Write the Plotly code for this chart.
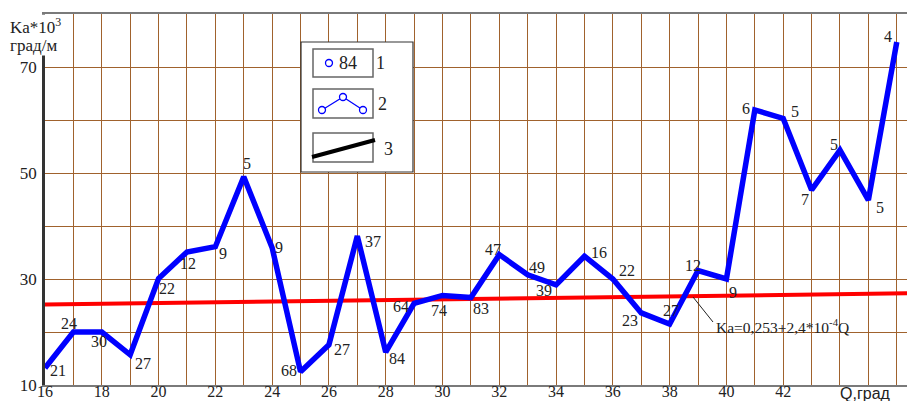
import plotly.graph_objects as go

# Angle of the section, degrees
q = list(range(16, 47))
# Ka * 10^3, deg/m
ka = [13.2, 20.0, 20.0, 15.7, 30.1, 35.1, 36.1, 49.3, 35.9, 12.5,
      17.6, 38.1, 16.2, 25.4, 26.9, 26.5, 34.6, 30.8, 28.9, 34.3,
      30.0, 23.6, 21.5, 31.6, 30.0, 61.9, 60.3, 46.8, 54.3, 44.9, 74.7]
# number of measurements at each point
counts = ["21", "24", "30", "27", "22", "12", "9", "5", "9", "68",
          "27", "37", "84", "64", "74", "83", "47", "49", "39", "16",
          "22", "23", "27", "12", "9", "6", "5", "7", "5", "5", "4"]
# regression line end points
trend_q = [16, 46.36]
trend_ka = [25.2, 27.3]

x_ticks = list(range(16, 43, 2))
y_ticks = [10, 30, 50, 70]

# label offsets (px right, px down) relative to each point
label_offsets = [(13, 2), (-4, -9), (-3, 9), (13, 9), (8, 10), (1, 12), (8, 7),
                 (3, -13), (7, 0), (-12, -1), (13, 5), (16, 5), (11, 6), (-13, 3),
                 (-4, 15), (10, 11), (-6, -5), (9, -7), (-12, 6), (15, -4),
                 (14, -9), (-11, 8), (1, -14), (-5, -5), (7, 13), (-9, -1),
                 (12, -7), (-7, 10), (-6, -6), (12, 7), (-9, -6)]

SERIF = "Liberation Serif, DejaVu Serif, serif"
SANS = "Liberation Sans, Arial, sans-serif"
GRID = "#a0622d"
ML, MT, PW, PH = 45, 14, 862, 371


def paper(px, py):
    return (px - ML) / PW, (MT + PH - py) / PH


def label(px, py, text, size=16, family=SERIF, xanchor="center", **kw):
    a, b = paper(px, py)
    return dict(x=a, y=b, xref="paper", yref="paper", text=text, showarrow=False,
                xanchor=xanchor, yanchor="middle",
                font=dict(family=family, size=size, color="#222"), **kw)


fig = go.Figure()
fig.add_trace(go.Scatter(x=trend_q, y=trend_ka, mode="lines",
                         line=dict(color="#ff0000", width=4), hoverinfo="skip"))
fig.add_trace(go.Scatter(x=q, y=ka, mode="lines",
                         line=dict(color="#0000ff", width=5.5), hoverinfo="skip"))

annotations = []
for xv, yv, t, (dx, dy) in zip(q, ka, counts, label_offsets):
    annotations.append(dict(x=xv, y=yv, xref="x", yref="y", text=t, showarrow=False,
                            xanchor="center", yanchor="middle",
                            xshift=dx, yshift=-dy,
                            font=dict(family=SERIF, size=16, color="#222")))

# axis captions
annotations.append(label(35, 26, "Ka*10<sup>3</sup>", size=17, bgcolor="white", borderpad=0))
annotations.append(label(33, 45, "град/м", size=17, bgcolor="white", borderpad=0))
annotations.append(label(865, 393, "Q,град", size=16, family=SANS))

# regression formula with leader
annotations.append(label(714, 326, "Ka=0,253+2,4*10<sup>-4</sup>Q", size=15.5, xanchor="left"))

shapes = []
x0, y0 = paper(693, 297)
x1, y1 = paper(713, 322)
shapes.append(dict(type="line", xref="paper", yref="paper", x0=x0, y0=y0, x1=x1, y1=y1,
                   line=dict(color="#222", width=1)))

# legend panel
x0, y0 = paper(301, 172)
x1, y1 = paper(413, 42)
shapes.append(dict(type="rect", xref="paper", yref="paper", x0=x0, y0=y0, x1=x1, y1=y1,
                   fillcolor="white", line=dict(color="#333", width=1.2), layer="above"))
for top, bot in [(49, 77), (89, 118), (133, 162)]:
    x0, y0 = paper(313, bot)
    x1, y1 = paper(373, top)
    shapes.append(dict(type="rect", xref="paper", yref="paper", x0=x0, y0=y0, x1=x1, y1=y1,
                       fillcolor="white", line=dict(color="#666", width=1.5), layer="above"))


def circle(cx, cy, r=3.5):
    a0, b0 = paper(cx - r, cy + r)
    a1, b1 = paper(cx + r, cy - r)
    return dict(type="circle", xref="paper", yref="paper", x0=a0, y0=b0, x1=a1, y1=b1,
                fillcolor="white", line=dict(color="#0000ff", width=1.3), layer="above")


shapes.append(circle(329, 63))
pts = [(322, 110), (343, 97), (363, 110)]
path = "M " + " L ".join(f"{paper(a, b)[0]},{paper(a, b)[1]}" for a, b in pts)
shapes.append(dict(type="path", xref="paper", yref="paper", path=path,
                   line=dict(color="#0000ff", width=1.2), layer="above"))
for a, b in pts:
    shapes.append(circle(a, b))
x0, y0 = paper(312, 157)
x1, y1 = paper(375, 140)
shapes.append(dict(type="line", xref="paper", yref="paper", x0=x0, y0=y0, x1=x1, y1=y1,
                   line=dict(color="#000", width=4), layer="above"))

for txt, cx, cy in [("84", 348, 63), ("1", 380, 63), ("2", 382, 104), ("3", 388, 149)]:
    annotations.append(label(cx, cy, txt, size=18))

fig.update_layout(
    width=907, height=401,
    margin=dict(l=ML, r=0, t=MT, b=401 - MT - PH, autoexpand=False),
    paper_bgcolor="white", plot_bgcolor="white",
    showlegend=False,
    annotations=annotations, shapes=shapes,
    xaxis=dict(range=[16, 46.36], tickmode="array", tickvals=x_ticks,
               ticktext=[str(v) for v in x_ticks], automargin=False,
               showgrid=True, gridcolor=GRID, gridwidth=1, zeroline=False,
               minor=dict(tickmode="linear", tick0=16, dtick=1, showgrid=True,
                          gridcolor=GRID, gridwidth=1),
               showline=True, mirror=True, linecolor="#7a7a7a", linewidth=2,
               ticks="", ticklabelstandoff=-9,
               tickfont=dict(family=SERIF, size=16, color="#222")),
    yaxis=dict(range=[10, 80], tickmode="array", tickvals=y_ticks,
               ticktext=[str(v) for v in y_ticks], automargin=False,
               showgrid=True, gridcolor=GRID, gridwidth=1, zeroline=False,
               minor=dict(tickmode="linear", tick0=10, dtick=10, showgrid=True,
                          gridcolor=GRID, gridwidth=1),
               showline=True, linecolor="#333", linewidth=2.5,
               ticks="", ticklabelstandoff=2,
               tickfont=dict(family=SERIF, size=17, color="#222")),
)

fig.write_html("out.html")
